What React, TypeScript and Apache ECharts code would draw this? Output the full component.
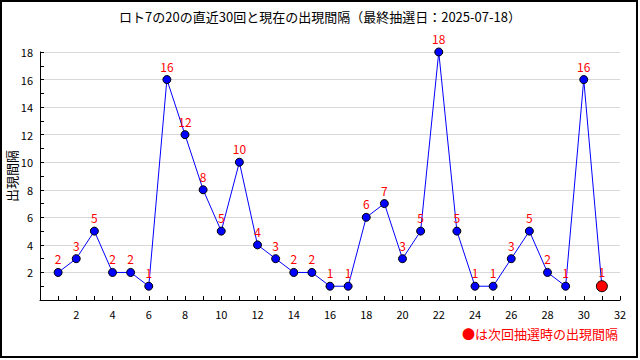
import React, { useEffect, useRef } from "react";
import * as echarts from "echarts";

const titleText = "ロト7の20の直近30回と現在の出現間隔（最終抽選日：2025-07-18）";
const yAxisName = "出現間隔";
const noteText = "●は次回抽選時の出現間隔";
const drawNos = [1, 2, 3, 4, 5, 6, 7, 8, 9, 10, 11, 12, 13, 14, 15, 16, 17, 18, 19, 20, 21, 22, 23, 24, 25, 26, 27, 28, 29, 30, 31];
const intervals = [2, 3, 5, 2, 2, 1, 16, 12, 8, 5, 10, 4, 3, 2, 2, 1, 1, 6, 7, 3, 5, 18, 5, 1, 1, 3, 5, 2, 1, 16, 1];

export default function App() {
  const ref = useRef<HTMLDivElement>(null);
  useEffect(() => {
    if (!ref.current) return;
    const chart = echarts.init(ref.current, null, { renderer: "svg" });
    const last = drawNos.length - 1;
    const data = drawNos.map((x, i) =>
      i === last
        ? {
            value: [x, intervals[i]],
            symbolSize: 11,
            itemStyle: { color: "#ff0000", borderColor: "#000", borderWidth: 1 },
          }
        : { value: [x, intervals[i]] }
    );
    const font = "'Noto Sans CJK JP', 'DejaVu Sans', sans-serif";
    chart.setOption({
      animation: false,
      backgroundColor: "#fff",
      title: {
        text: titleText,
        left: "center",
        top: 5,
        textStyle: { fontSize: 13, fontWeight: "normal", color: "#000", fontFamily: font },
      },
      grid: { left: 40, right: 20, top: 52, bottom: 60, containLabel: false, outerBoundsMode: "none" },
      xAxis: {
        type: "value",
        min: 0,
        max: 32,
        interval: 2,
        axisLine: { show: true, lineStyle: { color: "#000", width: 1 } },
        axisTick: { show: true, inside: true, length: 4, lineStyle: { color: "#000" } },
        minorTick: { show: true, splitNumber: 2, length: 4, lineStyle: { color: "#000" } },
        splitLine: { show: false },
        axisLabel: {
          color: "#000",
          fontSize: 11,
          fontFamily: font,
          margin: 8,
          formatter: (v: number) => (v === 0 ? "" : String(v)),
        },
      },
      yAxis: {
        type: "value",
        min: 0,
        max: 18,
        interval: 2,
        axisLine: { show: true, lineStyle: { color: "#000", width: 1 } },
        axisTick: { show: true, inside: true, length: 4, lineStyle: { color: "#000" } },
        minorTick: { show: true, splitNumber: 2, length: 4, lineStyle: { color: "#000" } },
        splitLine: { show: true, lineStyle: { color: "#d8d8d8", width: 1 } },
        axisLabel: {
          color: "#000",
          fontSize: 11,
          fontFamily: font,
          margin: 7,
          formatter: (v: number) => (v === 0 ? "" : String(v)),
        },
      },
      series: [
        {
          type: "line",
          data,
          symbol: "circle",
          symbolSize: 8,
          lineStyle: { color: "#0000ff", width: 1 },
          itemStyle: { color: "#0000ff", borderColor: "#000", borderWidth: 1 },
          label: {
            show: true,
            position: "top",
            distance: 3,
            color: "#ff0000",
            fontSize: 12,
            fontFamily: font,
            formatter: (p: any) => String(p.value[1]),
          },
          z: 3,
        },
      ],
      graphic: [
        {
          type: "rect",
          shape: { x: 1, y: 1, width: 636, height: 356 },
          style: { fill: "none", stroke: "#000", lineWidth: 2 },
          silent: true,
        },
        {
          type: "text",
          x: 11,
          y: 176,
          rotation: Math.PI / 2,
          style: {
            text: yAxisName,
            fill: "#000",
            fontSize: 13,
            fontFamily: font,
            align: "center",
            verticalAlign: "middle",
          },
        },
        {
          type: "text",
          right: 22,
          top: 327,
          style: { text: noteText, fill: "#ff0000", fontSize: 13, fontFamily: font },
        },
      ],
    });
    return () => chart.dispose();
  }, []);
  return (
    <div
      ref={ref}
      style={{ position: "absolute", left: 0, top: 0, width: 640, height: 360 }}
    />
  );
}
